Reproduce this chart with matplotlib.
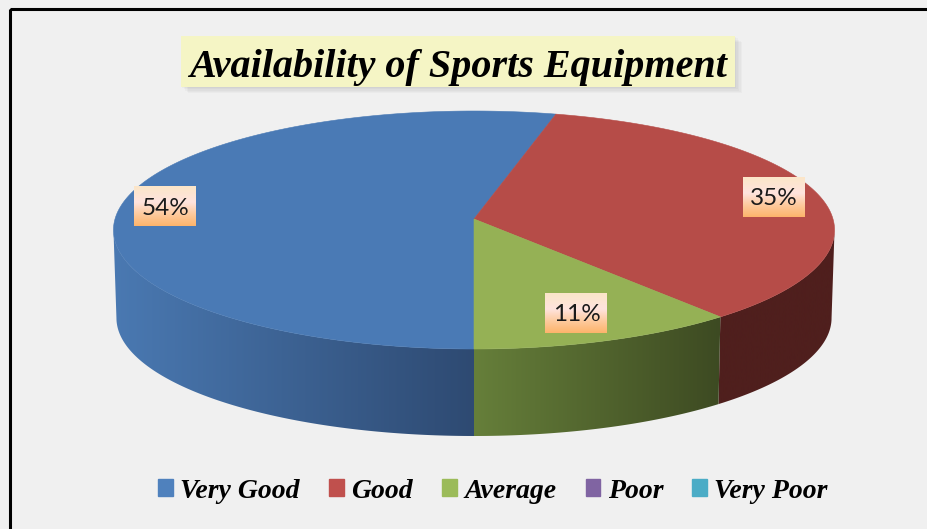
import numpy as np
import matplotlib
matplotlib.use('Agg')
import matplotlib.pyplot as plt
from matplotlib.colors import LinearSegmentedColormap
from matplotlib.patches import Polygon, Rectangle

title = 'Availability of Sports Equipment'
categories = ['Very Good', 'Good', 'Average', 'Poor', 'Very Poor']
shares = [54, 35, 11, 0, 0]
colors = ['#4A7AB5', '#B64C48', '#95B155', '#8064A2', '#4BACC6']
legend_colors = ['#4F81BD', '#C0504D', '#9BBB59', '#8064A2', '#4BACC6']
# wall shading, left colour and right colour on screen
wall_colors = {0: ('#4A79B2', '#2E4A72'), 1: ('#4F1F1D', '#4F1F1D'), 2: ('#667F3A', '#3D4A22')}
label_radius = [0.875, 0.87, 0.785]

W, H = 928, 529
CX = 474
TOP = (230, 119, 359)     # ellipse centre y, radius y, radius x
BOTTOM = (318, 118, 356)
PERSP = 11                # how far the pie centre sits above the ellipse centre
START = 180               # first slice starts at the bottom, clockwise


def project(t, level, f=1.0):
    cy, ry, rx = level
    t = np.radians(t)
    u, v = f * np.sin(t), f * np.cos(t)
    c = PERSP / ry
    den = 1 + c * v
    return CX + rx * u / den, cy - (ry * v + PERSP) / den


def gradient_fill(ax, patch, left, right, extent):
    cmap = LinearSegmentedColormap.from_list('g', [left, right])
    im = ax.imshow(np.linspace(0, 1, 256)[None, :], cmap=cmap, extent=extent,
                   aspect='auto', zorder=patch.get_zorder())
    ax.add_patch(patch)
    patch.set_visible(False)
    im.set_clip_path(patch)


fig = plt.figure(figsize=(W / 100, H / 100), dpi=100, facecolor='#F0F0F0')
ax = fig.add_axes([0, 0, 1, 1])
ax.set_axis_off()

# frame
ax.add_patch(Rectangle((10, 9), W + 20, H + 20, fill=False, ec='black', lw=2.2, zorder=1))

# angle where the rim is widest on screen, the wall stops there
probe = np.linspace(60, 120, 601)
side = probe[np.argmax(project(probe, TOP)[0])]

# slices
edges = START + np.cumsum([0] + shares) * 3.6
for i in range(3):
    a0, a1 = edges[i], edges[i + 1]
    if a0 >= 360:
        a0, a1 = a0 - 360, a1 - 360
    lo, hi = max(a0, side), min(a1, 360 - side)
    if lo < hi:
        ts = np.linspace(lo, hi, 120)
        xt, yt = project(ts, TOP)
        xb, yb = project(ts, BOTTOM)
        pts = np.column_stack([np.r_[xt, xb[::-1]], np.r_[yt, yb[::-1]]])
        left, right = wall_colors[i]
        x0, x1 = pts[:, 0].min(), pts[:, 0].max()
        gradient_fill(ax, Polygon(pts, closed=True, zorder=3), left, right, (x0, x1, 529, 0))

for i in range(3):
    ts = np.linspace(edges[i], edges[i + 1], 200)
    x, y = project(ts, TOP)
    apex = project(0, TOP, 0)
    pts = np.column_stack([np.r_[apex[0], x], np.r_[apex[1], y]])
    ax.add_patch(Polygon(pts, closed=True, fc=colors[i], ec=colors[i], lw=0.4, zorder=4))

# data labels with their gradient boxes
box_cmap = LinearSegmentedColormap.from_list(
    'box', [(0, '#FBE6C8'), (0.4, '#FFE3DE'), (0.7, '#FDCB9E'), (1, '#FDB46C')])
for i in range(3):
    mid = (edges[i] + edges[i + 1]) / 2
    lx, ly = project(mid, TOP, label_radius[i])
    ax.imshow(np.linspace(0, 1, 64)[:, None], cmap=box_cmap, aspect='auto', zorder=5,
              extent=(lx - 31, lx + 31, ly + 20, ly - 20))
    ax.text(lx, ly + 2, '%d%%' % shares[i], ha='center', va='center', fontsize=17.5,
            family='Lato', color='#1A1A1A', zorder=6)

# title box with soft shadow
for k in range(6):
    ax.add_patch(Rectangle((181 + k * 1.5, 36 + k * 1.2), 554, 51, fc='black', ec='none',
                           alpha=0.025, zorder=2))
ax.add_patch(Rectangle((181, 36), 554, 51, fc='#F5F5C5', ec='none', zorder=3))
ax.text(458.5, 67, title, ha='center', va='center', fontsize=28.9, family='Liberation Serif',
        style='italic', weight='bold', color='black', zorder=4)

# legend
handles = [Rectangle((0, 0), 1, 1, fc=c, ec=c) for c in legend_colors]
ax.legend(handles, categories, ncol=5, loc='center', bbox_to_anchor=(493 / W, 1 - 491 / H),
          frameon=False, handlelength=0.52, handleheight=0.55, handletextpad=0.27,
          columnspacing=1.06, prop={'family': 'Liberation Serif', 'style': 'italic',
                                    'weight': 'bold', 'size': 20})

ax.set_xlim(0, W)
ax.set_ylim(H, 0)
fig.savefig('out.png', dpi=100, facecolor=fig.get_facecolor())
